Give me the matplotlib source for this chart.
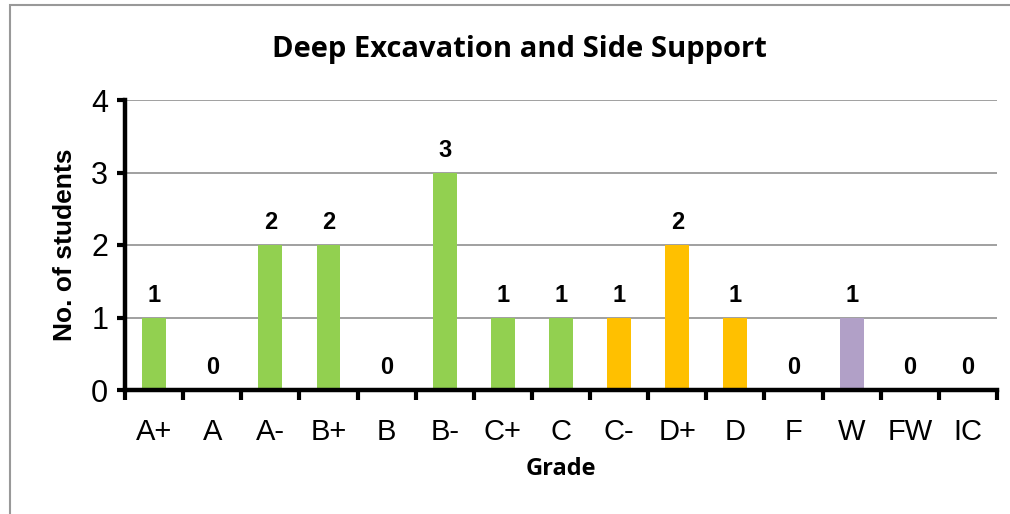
import matplotlib.pyplot as plt
from matplotlib.patches import Rectangle

grades = ['A+', 'A', 'A-', 'B+', 'B', 'B-', 'C+', 'C', 'C-', 'D+', 'D', 'F', 'W', 'FW', 'IC']
counts = [1, 0, 2, 2, 0, 3, 1, 1, 1, 2, 1, 0, 1, 0, 0]
colors = ['#92D050'] * 8 + ['#FFC000'] * 3 + ['#92D050', '#B1A0C7', '#92D050', '#92D050']

fig = plt.figure(figsize=[10.1, 5.14], dpi=100)
fig.patches.append(Rectangle((10 / 1010, -0.1), 1.2, (509 + 51) / 514, transform=fig.transFigure,
                             fill=False, edgecolor='#999999', lw=1.5))
ax = fig.add_axes([125 / 1010, 124 / 514, 872 / 1010, 290 / 514])

x = list(range(len(grades)))
ax.bar(x, counts, width=0.41, color=colors, zorder=3)
for xi, c in zip(x, counts):
    ax.annotate(str(c), (xi, c), xytext=(0, 16), textcoords='offset points', ha='center',
                va='center', fontsize=17, fontweight='bold', family='Liberation Sans')

ax.set_xlim(-0.5, len(grades) - 0.5)
ax.set_ylim(0, 4)
ax.set_yticks([0, 1, 2, 3, 4])
ax.set_xticks(x)
ax.set_xticklabels(grades)
ax.set_xticks([i - 0.5 for i in range(len(grades) + 1)], minor=True)
ax.tick_params(axis='x', which='major', length=0, pad=20, labelsize=21)
ax.tick_params(axis='x', which='minor', length=7, width=3, direction='out', color='black')
ax.tick_params(axis='y', length=6, width=3, pad=6, labelsize=22)
for lbl in ax.get_xticklabels() + ax.get_yticklabels():
    lbl.set_family('Liberation Sans')

ax.yaxis.grid(True, color='#999999', lw=1.3, zorder=0)
for s in ['top', 'right']:
    ax.spines[s].set_visible(False)
for s in ['left', 'bottom']:
    ax.spines[s].set_linewidth(3.2)
    ax.spines[s].set_zorder(4)

ax.set_ylabel('No. of students', fontsize=19, fontweight='bold', family='Liberation Sans', labelpad=10)
ax.set_xlabel('Grade', fontsize=17, fontweight='bold', family='Open Sans', labelpad=8)
fig.text(519 / 1010, 1 - 49 / 514, 'Deep Excavation and Side Support', ha='center', va='center',
         fontsize=21, fontweight='bold', family='Open Sans')

plt.savefig('out.png')
